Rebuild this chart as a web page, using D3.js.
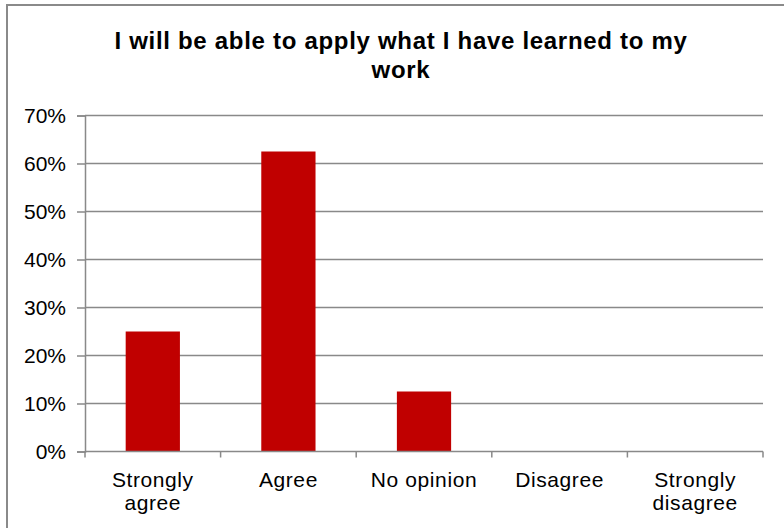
<!DOCTYPE html>
<html>
<head>
<meta charset="utf-8">
<script src="https://cdn.jsdelivr.net/npm/d3@7"></script>
<style>
  html, body { margin: 0; padding: 0; background: #fff; }
  svg { display: block; font-family: "Liberation Sans", Arial, sans-serif; }
</style>
</head>
<body>
<svg id="chart" width="784" height="528"></svg>
<script>
// Survey responses: share of respondents per answer
const categories = [["Strongly", "agree"], ["Agree"], ["No opinion"], ["Disagree"], ["Strongly", "disagree"]];
const values = [0.25, 0.625, 0.125, 0, 0];
const yTicks = [0, 0.1, 0.2, 0.3, 0.4, 0.5, 0.6, 0.7];
const titleLines = ["I will be able to apply what I have learned to my", "work"];

const svg = d3.select("#chart");
const gridColor = "#898989";
const barColor = "#C00000";

// Chart frame
svg.append("rect")
  .attr("x", 7).attr("y", 5)
  .attr("width", 790).attr("height", 540)
  .attr("fill", "#fff")
  .attr("stroke", "#8a8a8a")
  .attr("stroke-width", 2);

// Title
const title = svg.append("text")
  .attr("text-anchor", "middle")
  .attr("font-weight", "bold")
  .attr("font-size", 24)
  .attr("letter-spacing", 0.7)
  .attr("fill", "#000");
titleLines.forEach((line, i) => {
  title.append("tspan")
    .attr("x", 401)
    .attr("y", 49 + i * 29)
    .text(line);
});

const plot = { left: 85, right: 763, top: 115.5, bottom: 451.5 };

const keys = categories.map(c => c.join(" "));
const x = d3.scaleBand().domain(keys).range([plot.left, plot.right]).padding(0);
const y = d3.scaleLinear().domain([0, 0.7]).range([plot.bottom, plot.top]);

// Horizontal gridlines
svg.append("g")
  .selectAll("line")
  .data(yTicks.slice(1))
  .join("line")
  .attr("x1", plot.left).attr("x2", plot.right)
  .attr("y1", d => y(d)).attr("y2", d => y(d))
  .attr("stroke", gridColor)
  .attr("stroke-width", 1.5);

// Bars: 40% of each category slot, centred
const barW = x.bandwidth() * 0.4;
svg.append("g")
  .selectAll("rect")
  .data(values)
  .join("rect")
  .attr("x", (d, i) => x(keys[i]) + (x.bandwidth() - barW) / 2)
  .attr("y", d => y(d))
  .attr("width", barW)
  .attr("height", d => y(0) - y(d))
  .attr("fill", barColor);

// Y axis
const yAxis = svg.append("g")
  .attr("transform", `translate(${plot.left},0)`)
  .call(d3.axisLeft(y).tickValues(yTicks).tickFormat(d3.format(".0%")).tickSize(8).tickPadding(11));
yAxis.select(".domain").attr("stroke", gridColor).attr("stroke-width", 1.5);
yAxis.selectAll(".tick line").attr("stroke", gridColor).attr("stroke-width", 1.5);
yAxis.selectAll(".tick text")
  .attr("font-size", 21)
  .attr("font-family", "Liberation Sans, Arial, sans-serif")
  .attr("fill", "#000");

// X axis: ticks sit on category boundaries, labels in slot centres
const xAxisG = svg.append("g").attr("transform", `translate(0,${plot.bottom})`);
xAxisG.append("line")
  .attr("x1", plot.left).attr("x2", plot.right)
  .attr("stroke", gridColor).attr("stroke-width", 1.5);
const boundaries = keys.map(k => x(k)).concat([plot.right]);
xAxisG.selectAll("line.tick")
  .data(boundaries)
  .join("line")
  .attr("class", "tick")
  .attr("x1", d => d).attr("x2", d => d)
  .attr("y1", 0).attr("y2", 6)
  .attr("stroke", gridColor).attr("stroke-width", 1.5);

const labels = xAxisG.selectAll("text")
  .data(categories)
  .join("text")
  .attr("text-anchor", "middle")
  .attr("font-size", 21)
  .attr("letter-spacing", 0.6)
  .attr("fill", "#000");
labels.each(function(lines, i) {
  const t = d3.select(this);
  lines.forEach((ln, j) => {
    t.append("tspan")
      .attr("x", x(keys[i]) + x.bandwidth() / 2)
      .attr("y", 35 + j * 23.5)
      .text(ln);
  });
});
</script>
</body>
</html>
